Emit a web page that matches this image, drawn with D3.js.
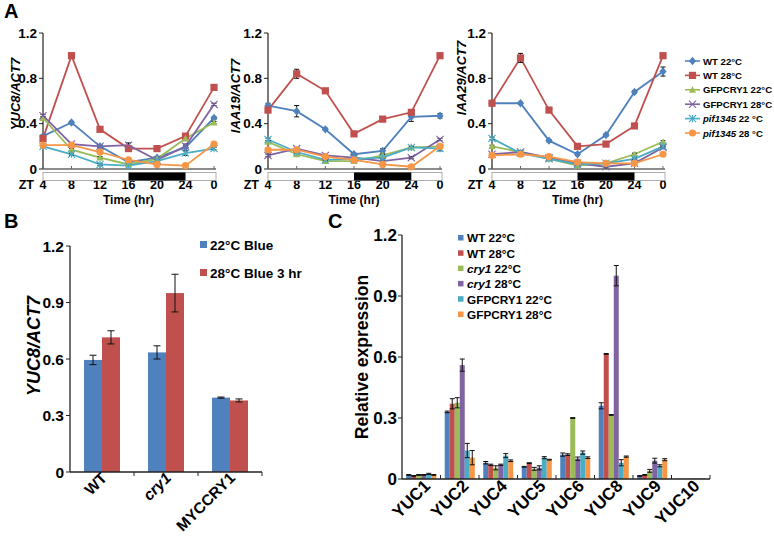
<!DOCTYPE html>
<html><head><meta charset="utf-8">
<script src="https://cdn.jsdelivr.net/npm/d3@7"></script>
<style>
body{margin:0;background:#fff;}
svg{font-family:"Liberation Sans",Arial,sans-serif;font-weight:bold;}
</style></head>
<body><svg id="c" width="774" height="536"></svg>
<script>
// ---------- DATA ----------
const timeLabels = ["4","8","12","16","20","24","0"];
const seriesA = ["WT 22°C","WT 28°C","GFPCRY1 22°C","GFPCRY1 28°C","pif1345 22 °C","pif1345 28 °C"];
const colorsSeries = ["#4F81BD","#C0504D","#9BBB59","#8064A2","#4BACC6","#F79646"];

const yuc8WT22  = [0.29,0.41,0.20,0.06,0.10,0.19,0.45];
const yuc8WT28  = [0.27,1.00,0.35,0.18,0.18,0.29,0.72];
const yuc8GFP22 = [0.45,0.17,0.10,0.04,0.09,0.27,0.41];
const yuc8GFP28 = [0.47,0.22,0.20,0.21,0.08,0.20,0.57];
const yuc8Pif22 = [0.20,0.13,0.04,0.03,0.07,0.14,0.18];
const yuc8Pif28 = [0.21,0.21,0.15,0.08,0.04,0.03,0.22];
const yuc8Err   = [[0.01,0.01,0.01,0.01,0.01,0.03,0.01],[0.01,0.01,0.01,0.01,0.01,0.02,0.02],[0.01,0.01,0.01,0.01,0.01,0.02,0.01],[0.01,0.01,0.01,0.02,0.01,0.01,0.01],[0.01,0.01,0.01,0.01,0.01,0.02,0.01],[0.01,0.01,0.01,0.01,0.01,0.01,0.01]];

const iaa19WT22  = [0.56,0.51,0.35,0.13,0.16,0.46,0.47];
const iaa19WT28  = [0.52,0.84,0.69,0.31,0.44,0.50,1.00];
const iaa19GFP22 = [0.24,0.13,0.07,0.07,0.12,0.19,0.20];
const iaa19GFP28 = [0.12,0.18,0.12,0.10,0.07,0.10,0.26];
const iaa19Pif22 = [0.26,0.15,0.08,0.09,0.10,0.19,0.18];
const iaa19Pif28 = [0.17,0.17,0.11,0.08,0.04,0.02,0.20];
const iaa19Err   = [[0.02,0.05,0.01,0.01,0.02,0.04,0.02],[0.02,0.04,0.01,0.01,0.01,0.01,0.01],[0.01,0.01,0.01,0.01,0.01,0.01,0.01],[0.01,0.01,0.01,0.01,0.01,0.01,0.01],[0.01,0.01,0.01,0.01,0.01,0.01,0.02],[0.01,0.01,0.01,0.01,0.01,0.01,0.01]];

const iaa29WT22  = [0.58,0.58,0.25,0.13,0.30,0.68,0.86];
const iaa29WT28  = [0.58,0.98,0.52,0.20,0.22,0.38,1.00];
const iaa29GFP22 = [0.20,0.15,0.09,0.03,0.05,0.13,0.24];
const iaa29GFP28 = [0.13,0.15,0.10,0.05,0.02,0.05,0.19];
const iaa29Pif22 = [0.27,0.14,0.09,0.04,0.05,0.09,0.20];
const iaa29Pif28 = [0.12,0.13,0.11,0.06,0.05,0.05,0.13];
const iaa29Err   = [[0.01,0.01,0.01,0.01,0.01,0.01,0.04],[0.01,0.04,0.01,0.01,0.01,0.01,0.01],[0.01,0.01,0.01,0.01,0.01,0.01,0.01],[0.01,0.01,0.01,0.01,0.01,0.01,0.01],[0.01,0.01,0.01,0.01,0.01,0.01,0.01],[0.01,0.01,0.01,0.01,0.01,0.01,0.01]];

const ticksA = [0,0.4,0.8,1.2];
const tickLabelsA = ["0","0.4","0.8","1.2"];

const genotypesB = ["WT","cry1","MYCCRY1"];
const seriesB = ["22°C Blue","28°C Blue 3 hr"];
const colorsB = ["#4F81BD","#C0504D"];
const b22 = [0.595,0.635,0.395];
const b28 = [0.715,0.950,0.380];
const b22Err = [0.025,0.035,0.003];
const b28Err = [0.035,0.100,0.008];
const ticksB = [0,0.3,0.6,0.9,1.2];
const tickLabelsB = ["0","0.3","0.6","0.9","1.2"];

const genesC = ["YUC1","YUC2","YUC4","YUC5","YUC6","YUC8","YUC9","YUC10"];
const seriesC = ["WT 22°C","WT 28°C","cry1 22°C","cry1 28°C","GFPCRY1 22°C","GFPCRY1 28°C"];
const cWT22  = [0.020,0.330,0.080,0.060,0.120,0.360,0.015,0.001];
const cWT28  = [0.015,0.370,0.070,0.078,0.120,0.615,0.020,0.001];
const cCry22 = [0.020,0.375,0.055,0.050,0.300,0.315,0.040,0.001];
const cCry28 = [0.020,0.560,0.070,0.055,0.100,1.000,0.090,0.002];
const cGFP22 = [0.025,0.140,0.115,0.105,0.130,0.080,0.065,0.003];
const cGFP28 = [0.020,0.105,0.090,0.095,0.105,0.110,0.095,0.003];
const cErr = [[0.002,0.004,0.006,0.002,0.008,0.015,0.002,0],[0.002,0.025,0.003,0.002,0.004,0.002,0.002,0],[0.002,0.025,0.010,0.007,0.002,0.002,0.007,0],[0.002,0.030,0.003,0.010,0.008,0.050,0.012,0],[0.003,0.035,0.010,0.005,0.008,0.015,0.005,0],[0.002,0.035,0.004,0.002,0.004,0.003,0.005,0]];
const ticksC = [0,0.3,0.6,0.9,1.2];
const tickLabelsC = ["0","0.3","0.6","0.9","1.2"];

// ---------- DRAW ----------
const svg = d3.select("#c");

function marker(g, i, x, y, c) {
  const s = 3.6;
  if (i === 0) g.append("path").attr("d", `M${x},${y-s-0.6}L${x+s},${y}L${x},${y+s+0.6}L${x-s},${y}Z`).attr("fill", c);
  else if (i === 1) g.append("rect").attr("x", x-s).attr("y", y-s).attr("width", 2*s).attr("height", 2*s).attr("fill", c);
  else if (i === 2) g.append("path").attr("d", `M${x},${y-s}L${x+s},${y+s*0.8}L${x-s},${y+s*0.8}Z`).attr("fill", c);
  else if (i === 3) g.append("path").attr("d", `M${x-s},${y-s}L${x+s},${y+s}M${x-s},${y+s}L${x+s},${y-s}`).attr("stroke", c).attr("stroke-width", 1.1);
  else if (i === 4) g.append("path").attr("d", `M${x-s},${y-s}L${x+s},${y+s}M${x-s},${y+s}L${x+s},${y-s}M${x},${y-s}L${x},${y+s}`).attr("stroke", c).attr("stroke-width", 1.1);
  else g.append("circle").attr("cx", x).attr("cy", y).attr("r", s).attr("fill", c);
}

function errBar(g, x, y0, y1, cap) {
  g.append("path").attr("d", `M${x},${y0}L${x},${y1}M${x-cap},${y0}L${x+cap},${y0}M${x-cap},${y1}L${x+cap},${y1}`)
    .attr("stroke", "#111").attr("stroke-width", 1).attr("fill", "none");
}

function linePanel(x0, x1, data, errs, title, tx, ty) {
  const x = d3.scalePoint().domain(timeLabels).range([x0, x1]);
  const y = d3.scaleLinear().domain([0, 1.2]).range([169, 33]);
  const g = svg.append("g");
  g.append("line").attr("x1", x0).attr("x2", x0).attr("y1", y(1.2)).attr("y2", y(0)).attr("stroke", "#222").attr("stroke-width", 1.2);
  ticksA.forEach((t, k) => {
    g.append("line").attr("x1", x0-4).attr("x2", x0).attr("y1", y(t)).attr("y2", y(t)).attr("stroke", "#222");
    g.append("text").attr("x", x0-6).attr("y", y(t)+4.5).attr("text-anchor", "end").attr("font-size", 13.5).text(tickLabelsA[k]);
  });
  g.append("line").attr("x1", x0).attr("x2", x1+2).attr("y1", 169).attr("y2", 169).attr("stroke", "#666").attr("stroke-width", 1.6);
  timeLabels.forEach(t => {
    g.append("line").attr("x1", x(t)).attr("x2", x(t)).attr("y1", 166).attr("y2", 169).attr("stroke", "#666");
    g.append("text").attr("x", x(t)).attr("y", 189).attr("text-anchor", "middle").attr("font-size", 12.5).text(t);
  });
  g.append("text").attr("x", x0-9).attr("y", 189).attr("text-anchor", "end").attr("font-size", 12.5).text("ZT");
  g.append("text").attr("x", x("16")).attr("y", 203.5).attr("text-anchor", "middle").attr("font-size", 12).text("Time (hr)");
  g.append("rect").attr("x", x0).attr("y", 172.5).attr("width", x1+2-x0).attr("height", 8).attr("fill", "#fff").attr("stroke", "#999").attr("stroke-width", 0.8);
  g.append("rect").attr("x", x("16")).attr("y", 172.5).attr("width", x("24")-x("16")).attr("height", 8).attr("fill", "#000");
  g.append("text").attr("transform", `translate(${tx},${ty}) rotate(-90)`).attr("text-anchor", "middle").attr("font-size", 13).attr("font-style", "italic").text(title);
  const line = d3.line().x((d, k) => x(timeLabels[k])).y(d => y(d));
  data.forEach((vals, i) => {
    g.append("path").attr("d", line(vals)).attr("fill", "none").attr("stroke", colorsSeries[i]).attr("stroke-width", 1.8);
  });
  data.forEach((vals, i) => {
    vals.forEach((v, k) => {
      const e = errs[i][k];
      errBar(g, x(timeLabels[k]), y(v-e), y(v+e), 2.5);
    });
  });
  data.forEach((vals, i) => {
    vals.forEach((v, k) => marker(g, i, x(timeLabels[k]), y(v), colorsSeries[i]));
  });
}

linePanel(43, 214, [yuc8WT22,yuc8WT28,yuc8GFP22,yuc8GFP28,yuc8Pif22,yuc8Pif28], yuc8Err, "YUC8/ACT7", 20, 94);
linePanel(268, 440, [iaa19WT22,iaa19WT28,iaa19GFP22,iaa19GFP28,iaa19Pif22,iaa19Pif28], iaa19Err, "IAA19/ACT7", 240, 96);
linePanel(492, 663, [iaa29WT22,iaa29WT28,iaa29GFP22,iaa29GFP28,iaa29Pif22,iaa29Pif28], iaa29Err, "IAA29/ACT7", 466, 78);

// legend A
seriesA.forEach((name, i) => {
  const yy = 61 + i*14.4;
  const g = svg.append("g");
  g.append("line").attr("x1", 685).attr("x2", 700).attr("y1", yy).attr("y2", yy).attr("stroke", colorsSeries[i]).attr("stroke-width", 1.6);
  marker(g, i, 692.5, yy, colorsSeries[i]);
  const t = g.append("text").attr("x", 703).attr("y", yy+3.5).attr("font-size", 9.6);
  if (name.startsWith("pif1345")) {
    t.append("tspan").attr("font-style", "italic").text("pif1345");
    t.append("tspan").text(name.slice(7));
  } else t.text(name);
});

// panel labels
svg.append("text").attr("x", 4).attr("y", 18).attr("font-size", 20).text("A");
svg.append("text").attr("x", 4).attr("y", 228).attr("font-size", 20).text("B");
svg.append("text").attr("x", 328).attr("y", 228).attr("font-size", 20).text("C");

// ---------- Panel B ----------
(function(){
  const x = d3.scaleBand().domain(genotypesB).range([70, 262]).paddingInner(0.4375).paddingOuter(0.21875);
  const xs = d3.scaleBand().domain(seriesB).range([0, x.bandwidth()]);
  const y = d3.scaleLinear().domain([0, 1.2]).range([472, 246]);
  const g = svg.append("g");
  const vals = [b22, b28], errs = [b22Err, b28Err];
  seriesB.forEach((s, si) => {
    genotypesB.forEach((gn, k) => {
      g.append("rect").attr("x", x(gn)+xs(s)).attr("y", y(vals[si][k])).attr("width", xs.bandwidth()).attr("height", y(0)-y(vals[si][k])).attr("fill", colorsB[si]);
    });
  });
  seriesB.forEach((s, si) => {
    genotypesB.forEach((gn, k) => {
      const cx = x(gn)+xs(s)+xs.bandwidth()/2;
      errBar(g, cx, y(vals[si][k]-errs[si][k]), y(vals[si][k]+errs[si][k]), 3.5);
    });
  });
  g.append("line").attr("x1", 70).attr("x2", 70).attr("y1", 246).attr("y2", 472).attr("stroke", "#222").attr("stroke-width", 1.3);
  g.append("line").attr("x1", 70).attr("x2", 262).attr("y1", 472).attr("y2", 472).attr("stroke", "#222").attr("stroke-width", 1.3);
  ticksB.forEach((t, k) => {
    g.append("line").attr("x1", 66).attr("x2", 70).attr("y1", y(t)).attr("y2", y(t)).attr("stroke", "#222");
    g.append("text").attr("x", 64).attr("y", y(t)+5.5).attr("text-anchor", "end").attr("font-size", 15.5).text(tickLabelsB[k]);
  });
  [134, 198, 262].forEach(px => g.append("line").attr("x1", px).attr("x2", px).attr("y1", 472).attr("y2", 476).attr("stroke", "#222"));
  genotypesB.forEach(gn => {
    const cx = x(gn)+x.bandwidth()/2 + 6;
    g.append("text").attr("transform", `translate(${cx},479) rotate(-45)`).attr("text-anchor", "end").attr("font-size", 15.5)
      .attr("font-style", gn === "cry1" ? "italic" : "normal").text(gn);
  });
  g.append("text").attr("transform", "translate(40,346) rotate(-90)").attr("text-anchor", "middle").attr("font-size", 18).attr("font-style", "italic").text("YUC8/ACT7");
  seriesB.forEach((s, si) => {
    const yy = 245 + si*28;
    g.append("rect").attr("x", 200).attr("y", yy-4).attr("width", 7).attr("height", 7).attr("fill", colorsB[si]);
    g.append("text").attr("x", 210).attr("y", yy+4.5).attr("font-size", 13.5).text(s);
  });
})();

// ---------- Panel C ----------
(function(){
  const x = d3.scaleBand().domain(genesC).range([402, 710]).paddingInner(0.22).paddingOuter(0.11);
  const xs = d3.scaleBand().domain(seriesC).range([0, x.bandwidth()]);
  const y = d3.scaleLinear().domain([0, 1.2]).range([479, 235]);
  const g = svg.append("g");
  const vals = [cWT22, cWT28, cCry22, cCry28, cGFP22, cGFP28];
  seriesC.forEach((s, si) => {
    genesC.forEach((gn, k) => {
      g.append("rect").attr("x", x(gn)+xs(s)).attr("y", y(vals[si][k])).attr("width", xs.bandwidth()).attr("height", y(0)-y(vals[si][k])).attr("fill", colorsSeries[si]);
    });
  });
  seriesC.forEach((s, si) => {
    genesC.forEach((gn, k) => {
      const e = cErr[si][k];
      if (e > 0) {
        const cx = x(gn)+xs(s)+xs.bandwidth()/2;
        errBar(g, cx, y(vals[si][k]-e), y(vals[si][k]+e), 2.5);
      }
    });
  });
  g.append("line").attr("x1", 402).attr("x2", 402).attr("y1", 235).attr("y2", 479).attr("stroke", "#222").attr("stroke-width", 1.3);
  g.append("line").attr("x1", 402).attr("x2", 710).attr("y1", 479).attr("y2", 479).attr("stroke", "#222").attr("stroke-width", 1.3);
  ticksC.forEach((t, k) => {
    g.append("line").attr("x1", 398).attr("x2", 402).attr("y1", y(t)).attr("y2", y(t)).attr("stroke", "#222");
    g.append("text").attr("x", 397).attr("y", y(t)+6).attr("text-anchor", "end").attr("font-size", 17).text(tickLabelsC[k]);
  });
  genesC.forEach((gn, k) => {
    const px = x(gn) + x.bandwidth() + x.step()*x.paddingInner()/2;
    g.append("line").attr("x1", px).attr("x2", px).attr("y1", 475).attr("y2", 479).attr("stroke", "#222");
    const cx = x(gn)+x.bandwidth()/2 + 10;
    g.append("text").attr("transform", `translate(${cx},487) rotate(-45)`).attr("text-anchor", "end").attr("font-size", 17).text(gn);
  });
  g.append("text").attr("transform", "translate(368,357) rotate(-90)").attr("text-anchor", "middle").attr("font-size", 17.5).text("Relative expression");
  seriesC.forEach((s, si) => {
    const yy = 238 + si*15.3;
    g.append("rect").attr("x", 458).attr("y", yy-3).attr("width", 5.5).attr("height", 5.5).attr("fill", colorsSeries[si]);
    const t = g.append("text").attr("x", 467).attr("y", yy+4.3).attr("font-size", 11.8);
    if (s.startsWith("cry1")) {
      t.append("tspan").attr("font-style", "italic").text("cry1");
      t.append("tspan").text(s.slice(4));
    } else t.text(s);
  });
})();
</script></body></html>
